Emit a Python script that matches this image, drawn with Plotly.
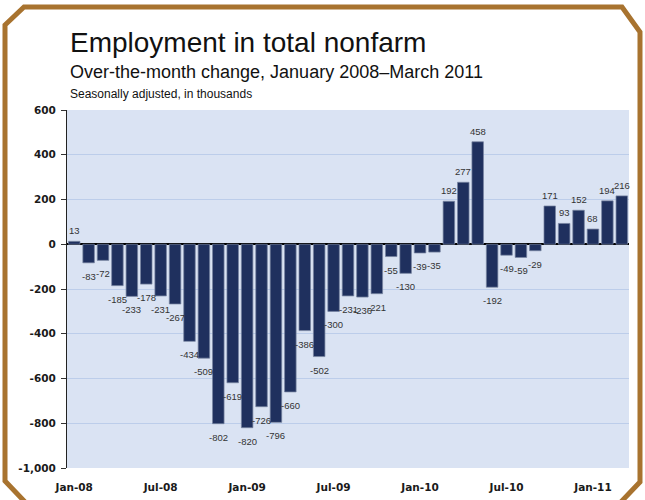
import plotly.graph_objects as go

# ---------------- data ----------------
months = [
    "Jan-08", "Feb-08", "Mar-08", "Apr-08", "May-08", "Jun-08", "Jul-08", "Aug-08", "Sep-08", "Oct-08", "Nov-08", "Dec-08",
    "Jan-09", "Feb-09", "Mar-09", "Apr-09", "May-09", "Jun-09", "Jul-09", "Aug-09", "Sep-09", "Oct-09", "Nov-09", "Dec-09",
    "Jan-10", "Feb-10", "Mar-10", "Apr-10", "May-10", "Jun-10", "Jul-10", "Aug-10", "Sep-10", "Oct-10", "Nov-10", "Dec-10",
    "Jan-11", "Feb-11", "Mar-11",
]
change = [
    13, -83, -72, -185, -233, -178, -231, -267, -434, -509, -802, -619,
    -820, -726, -796, -660, -386, -502, -300, -231, -236, -221, -55, -130,
    -39, -35, 192, 277, 458, -192, -49, -59, -29, 171, 93, 152,
    68, 194, 216,
]
x_tick_labels = ["Jan-08", "Jul-08", "Jan-09", "Jul-09", "Jan-10", "Jul-10", "Jan-11"]
y_tick_values = [600, 400, 200, 0, -200, -400, -600, -800, -1000]
y_tick_labels = ["600", "400", "200", "0", "-200", "-400", "-600", "-800", "-1,000"]

title = "Employment in total nonfarm"
subtitle = "Over-the-month change, January 2008\u2013March 2011"
note = "Seasonally adjusted, in thousands"

# ---------------- layout helpers (pixel -> paper) ----------------
W, H = 645, 500
L, R, T, B = 67, 16, 110, 32
PW, PH = W - L - R, H - T - B


def px(x):
    return (x - L) / PW


def py(y):
    return (H - B - y) / PH


BAR = "#1F305E"
BORDER = "#A8732F"
TXT = "#1a1a1a"

fig = go.Figure()
fig.add_trace(go.Bar(
    x=months, y=change,
    marker=dict(color=BAR, line=dict(color="rgba(120,132,160,0.9)", width=0.8)),
    hoverinfo="x+y",
))

annotations = []
for m, v in zip(months, change):
    annotations.append(dict(
        x=m, y=v, xref="x", yref="y", text=str(v), showarrow=False,
        xanchor="center",
        yanchor="bottom" if v >= 0 else "top",
        yshift=3 if v >= 0 else -6,
        font=dict(family="Liberation Sans, Arial, sans-serif", size=9.5, color="#333333"),
    ))

annotations += [
    dict(x=px(68), y=py(43), xref="paper", yref="paper", text=title, showarrow=False,
         xanchor="left", yanchor="middle",
         font=dict(family="Liberation Sans, Arial, sans-serif", size=28, color="#111111")),
    dict(x=px(68), y=py(72), xref="paper", yref="paper", text=subtitle, showarrow=False,
         xanchor="left", yanchor="middle",
         font=dict(family="Liberation Sans, Arial, sans-serif", size=18, color="#111111")),
    dict(x=px(68), y=py(94), xref="paper", yref="paper", text=note, showarrow=False,
         xanchor="left", yanchor="middle",
         font=dict(family="Liberation Sans, Arial, sans-serif", size=12, color="#111111")),
]

border_pts = [(26, 503), (5, 481), (5, 25), (24, 7), (622, 7), (640, 32), (640, 482), (619, 504)]
path = "M " + " L ".join(f"{px(a):.5f},{py(b):.5f}" for a, b in border_pts)

fig.update_layout(
    width=W, height=H,
    margin=dict(l=L, r=R, t=T, b=B, pad=0, autoexpand=False),
    paper_bgcolor="white",
    plot_bgcolor="#DAE3F3",
    bargap=0.2,
    showlegend=False,
    annotations=annotations,
    shapes=[dict(type="path", path=path, xref="paper", yref="paper",
                 line=dict(color=BORDER, width=5), layer="above")],
    xaxis=dict(
        type="category", range=[-0.5, len(months) - 0.5],
        tickmode="array", tickvals=x_tick_labels, ticktext=x_tick_labels,
        ticks="outside", ticklen=9, tickcolor="rgba(0,0,0,0)",
        showgrid=False, showline=False, zeroline=False, automargin=False,
        tickfont=dict(family="DejaVu Sans, Verdana, sans-serif", size=10.5, color=TXT, weight="bold"),
    ),
    yaxis=dict(
        range=[-1000, 600],
        tickmode="array", tickvals=y_tick_values, ticktext=y_tick_labels,
        ticks="outside", ticklen=5, tickcolor="#333333", ticklabelstandoff=3,
        showgrid=True, gridcolor="#BCCDEA", gridwidth=1,
        zeroline=True, zerolinecolor="#000000", zerolinewidth=1.5,
        showline=True, linecolor="#222222", linewidth=1, automargin=False,
        tickfont=dict(family="DejaVu Sans, Verdana, sans-serif", size=10.5, color=TXT, weight="bold"),
    ),
)

fig.write_html(
    "out.html",
    config={"displayModeBar": False},
    post_script="document.body.style.margin='0';document.body.style.padding='0';",
)
